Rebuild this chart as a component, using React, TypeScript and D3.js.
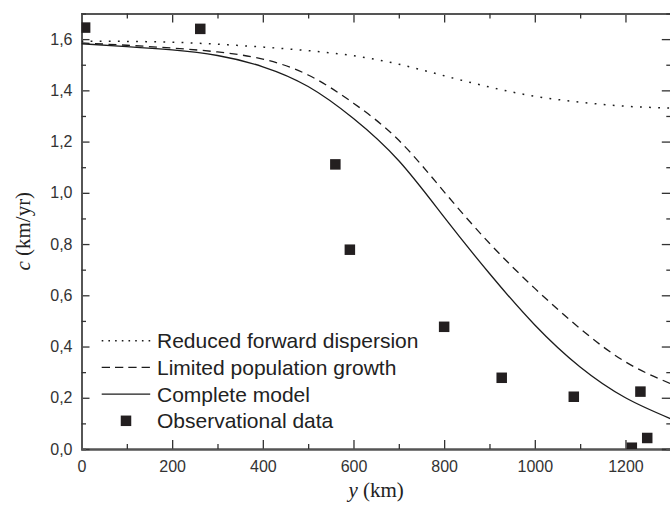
import React, { useEffect, useRef } from "react";
import * as d3 from "d3";

// model curves, sampled every 100 km
const modelX = [0, 100, 200, 300, 400, 500, 600, 700, 800, 900, 1000, 1100, 1200, 1300];
const reducedDispersion = [1.592, 1.591, 1.588, 1.58, 1.569, 1.555, 1.535, 1.502, 1.457, 1.413, 1.377, 1.354, 1.338, 1.331];
const limitedGrowth = [1.585, 1.576, 1.565, 1.55, 1.522, 1.46, 1.35, 1.205, 1.004, 0.803, 0.627, 0.47, 0.34, 0.255];
const completeModel = [1.582, 1.571, 1.558, 1.536, 1.492, 1.415, 1.29, 1.125, 0.905, 0.685, 0.484, 0.32, 0.2, 0.118];

// observations
const obsX = [8, 262, 560, 592, 800, 927, 1086, 1233, 1248, 1214];
const obsY = [1.645, 1.64, 1.111, 0.778, 0.477, 0.278, 0.204, 0.224, 0.043, 0.005];

const xMajor = [0, 200, 400, 600, 800, 1000, 1200];
const xMinor = [100, 300, 500, 700, 900, 1100, 1300];
const yMajor = [0, 0.2, 0.4, 0.6, 0.8, 1.0, 1.2, 1.4, 1.6];
const yMinor = [0.1, 0.3, 0.5, 0.7, 0.9, 1.1, 1.3, 1.5, 1.7];

const legendLabels = [
  "Reduced forward dispersion",
  "Limited population growth",
  "Complete model",
  "Observational data",
];

const W = 670;
const H = 509;

export default function App() {
  const svgRef = useRef<SVGSVGElement | null>(null);

  useEffect(() => {
    if (!svgRef.current) return;
    const root = d3.select(svgRef.current);
    root.selectAll("*").remove();

    const left = 81.5;
    const right = 670.8;
    const top = 13.5;
    const bottom = 449;

    const x = d3.scaleLinear().domain([0, 1300]).range([left, right]);
    const y = d3.scaleLinear().domain([0, 1.7]).range([bottom, top]);

    const ink = "#1c1c1c";
    const axisColor = "#555";
    const sans = "'Liberation Sans', Arial, sans-serif";
    const serif = "'Liberation Serif', 'Times New Roman', serif";

    const loc = d3.formatLocale({ decimal: ",", thousands: ".", grouping: [3], currency: ["", ""] });
    const fmtY = loc.format(".1f");

    root.append("rect").attr("width", W).attr("height", H).attr("fill", "#fff");

    root
      .append("defs")
      .append("clipPath")
      .attr("id", "plot-clip")
      .append("rect")
      .attr("x", left)
      .attr("y", top)
      .attr("width", right - left)
      .attr("height", bottom - top);

    // axes
    const styleAxis = (g: any) => {
      g.select(".domain").attr("stroke", axisColor).attr("stroke-width", 1.8);
      g.selectAll(".tick line").attr("stroke", "#333").attr("stroke-width", 1.3);
      g.selectAll(".tick text")
        .attr("fill", "#333")
        .attr("font-family", sans)
        .attr("font-size", 16);
    };

    const gx = root
      .append("g")
      .attr("transform", `translate(0,${bottom})`)
      .call(d3.axisBottom(x).tickValues(xMajor).tickSizeInner(-9).tickSizeOuter(0).tickPadding(11.6).tickFormat(d3.format("d")));
    styleAxis(gx);
    const gxm = root
      .append("g")
      .attr("transform", `translate(0,${bottom})`)
      .call(d3.axisBottom(x).tickValues(xMinor).tickSize(-5).tickFormat(() => ""));
    styleAxis(gxm);

    const gt = root
      .append("g")
      .attr("transform", `translate(0,${top})`)
      .call(d3.axisTop(x).tickValues(xMajor).tickSize(-9).tickFormat(() => ""));
    styleAxis(gt);
    const gtm = root
      .append("g")
      .attr("transform", `translate(0,${top})`)
      .call(d3.axisTop(x).tickValues(xMinor).tickSize(-5).tickFormat(() => ""));
    styleAxis(gtm);

    const gy = root
      .append("g")
      .attr("transform", `translate(${left},0)`)
      .call(d3.axisLeft(y).tickValues(yMajor).tickSizeInner(-8).tickSizeOuter(0).tickPadding(9).tickFormat((d: any) => fmtY(d)));
    styleAxis(gy);
    const gym = root
      .append("g")
      .attr("transform", `translate(${left},0)`)
      .call(d3.axisLeft(y).tickValues(yMinor).tickSize(-4.5).tickFormat(() => ""));
    styleAxis(gym);

    const gr = root
      .append("g")
      .attr("transform", `translate(${right},0)`)
      .call(d3.axisRight(y).tickValues(yMajor).tickSize(-9).tickFormat(() => ""));
    styleAxis(gr);
    const grm = root
      .append("g")
      .attr("transform", `translate(${right},0)`)
      .call(d3.axisRight(y).tickValues(yMinor).tickSize(-4.5).tickFormat(() => ""));
    styleAxis(grm);

    // curves
    const plot = root.append("g").attr("clip-path", "url(#plot-clip)");
    const line = d3
      .line<number>()
      .x((_, i) => x(modelX[i]))
      .y((d) => y(d))
      .curve(d3.curveNatural);

    const series = [
      { values: reducedDispersion, dash: "1.8,7.3", width: 1.5 },
      { values: limitedGrowth, dash: "8,5.5", width: 1.3 },
      { values: completeModel, dash: null, width: 1.3 },
    ];
    series.forEach((s) => {
      plot
        .append("path")
        .datum(s.values)
        .attr("fill", "none")
        .attr("stroke", ink)
        .attr("stroke-width", s.width)
        .attr("stroke-dasharray", s.dash)
        .attr("d", line);
    });

    const sq = 10.5;
    plot
      .selectAll("rect.obs")
      .data(obsX)
      .enter()
      .append("rect")
      .attr("class", "obs")
      .attr("x", (d) => x(d) - sq / 2)
      .attr("y", (_, i) => y(obsY[i]) - sq / 2)
      .attr("width", sq)
      .attr("height", sq)
      .attr("fill", "#231f20");

    // legend
    const lg = root.append("g").attr("transform", "translate(101.7,340.7)");
    const rowH = 26.7;
    const dashes = ["1.6,5.1", "8.3,5", null];
    legendLabels.forEach((label, i) => {
      const row = lg.append("g").attr("transform", `translate(0,${i * rowH})`);
      if (i < 3) {
        row
          .append("line")
          .attr("x1", 0)
          .attr("x2", 48.5)
          .attr("stroke", ink)
          .attr("stroke-width", i === 0 ? 1.5 : 1.4)
          .attr("stroke-dasharray", dashes[i]);
      } else {
        row
          .append("rect")
          .attr("x", 24.3 - sq / 2)
          .attr("y", -sq / 2)
          .attr("width", sq)
          .attr("height", sq)
          .attr("fill", "#231f20");
      }
      row
        .append("text")
        .attr("x", 55.3)
        .attr("y", 7.6)
        .attr("fill", "#222")
        .attr("font-family", sans)
        .attr("font-size", 21)
        .text(label);
    });

    // axis titles
    const xt = root
      .append("text")
      .attr("x", (left + right) / 2)
      .attr("y", 497)
      .attr("text-anchor", "middle")
      .attr("fill", "#222")
      .attr("font-family", serif)
      .attr("font-size", 21);
    xt.append("tspan").attr("font-style", "italic").text("y");
    xt.append("tspan").text(" (km)");

    const yt = root
      .append("text")
      .attr("transform", `translate(30,${(top + bottom) / 2}) rotate(-90)`)
      .attr("text-anchor", "middle")
      .attr("fill", "#222")
      .attr("font-family", serif)
      .attr("font-size", 21);
    yt.append("tspan").attr("font-style", "italic").text("c");
    yt.append("tspan").text(" (km/yr)");
  }, []);

  return (
    <svg
      ref={svgRef}
      width={W}
      height={H}
      style={{ position: "absolute", left: 0, top: 0, display: "block" }}
    />
  );
}
